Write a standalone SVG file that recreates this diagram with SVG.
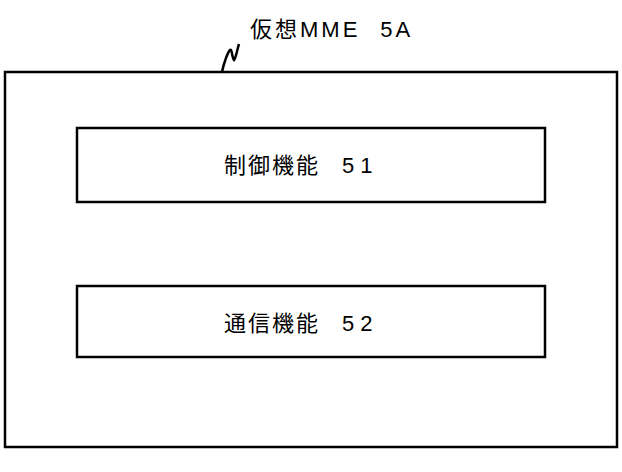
<svg xmlns="http://www.w3.org/2000/svg" width="622" height="472" viewBox="0 0 622 472">
<style>
.box{fill:#fff;stroke:#000;stroke-width:2.5}
.t{font-family:"Liberation Sans","Noto Sans CJK JP",sans-serif;font-size:22px;fill:#000;letter-spacing:2px}
</style>
<rect width="622" height="472" fill="#fff"/>
<g id="vmme">
<rect class="box" x="5" y="72" width="612" height="375"/>
<text class="t" x="250" y="37" style="letter-spacing:3px">仮想MME<tspan dx="20">5A</tspan></text>
</g>
<g id="connectors">
<path d="M222,72 C224,62 228,52 230,50 C232,48 232,58 234,60 C236,58 237,50 239,44" fill="none" stroke="#000" stroke-width="2.5"/>
</g>
<g id="ctrl">
<rect class="box" x="77" y="128" width="468" height="74"/>
<text class="t" x="224" y="173">制御機能<tspan dx="22" style="letter-spacing:6px">51</tspan></text>
</g>
<g id="comm">
<rect class="box" x="77" y="286" width="468" height="71"/>
<text class="t" x="224" y="331">通信機能<tspan dx="22" style="letter-spacing:6px">52</tspan></text>
</g>
</svg>
